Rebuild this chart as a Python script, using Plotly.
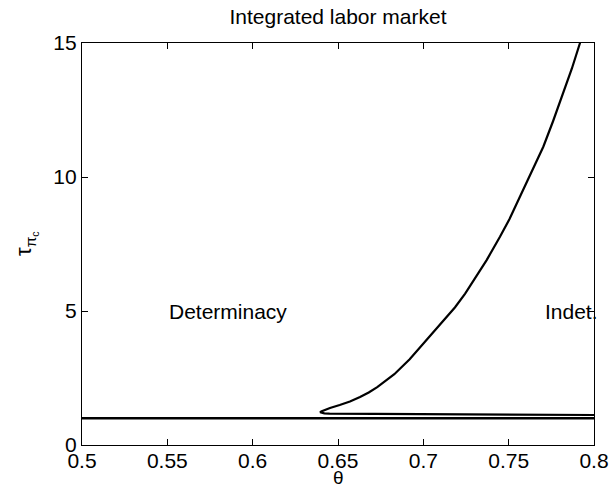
import plotly.graph_objects as go

# Horizontal boundary (tau = 1 across whole range)
flat_theta = [0.5, 0.8]
flat_tau = [1.0, 1.0]

# Folded boundary: lower branch (right -> fold) then upper branch (fold -> top)
lower_theta = [0.8, 0.75, 0.70, 0.66, 0.65, 0.645, 0.642, 0.6403]
lower_tau = [1.12, 1.13, 1.14, 1.15, 1.16, 1.17, 1.18, 1.195]
upper_theta = [0.6395, 0.6405, 0.6425, 0.6453, 0.651, 0.657, 0.6629, 0.668, 0.673,
               0.678, 0.683, 0.692, 0.702, 0.710, 0.7186, 0.7245, 0.7303, 0.7371,
               0.7449, 0.7505, 0.7557, 0.763, 0.7703, 0.776, 0.782, 0.787, 0.7918, 0.7935]
upper_tau = [1.22, 1.26, 1.32, 1.38, 1.49, 1.62, 1.79, 1.96, 2.16,
             2.39, 2.64, 3.20, 3.92, 4.50, 5.14, 5.65, 6.22, 6.90,
             7.77, 8.43, 9.14, 10.12, 11.13, 12.08, 13.12, 14.04, 15.0, 15.35]

x_ticks = [0.5, 0.55, 0.6, 0.65, 0.7, 0.75, 0.8]
x_tick_labels = ["0.5", "0.55", "0.6", "0.65", "0.7", "0.75", "0.8"]
y_ticks = [0, 5, 10, 15]
y_tick_labels = ["0", "5", "10", "15"]

FONT = "Liberation Sans, Arial, sans-serif"
FS = 21
PLOT_W, PLOT_H = 512, 402

fig = go.Figure()
fig.add_trace(go.Scatter(x=flat_theta, y=flat_tau, mode="lines",
                         line=dict(color="black", width=2.6), showlegend=False))
fig.add_trace(go.Scatter(x=lower_theta + upper_theta, y=lower_tau + upper_tau,
                         mode="lines", line=dict(color="black", width=2.2),
                         showlegend=False))

fig.add_annotation(x=0.55, y=5, text="Determinacy", showarrow=False,
                   xanchor="left", yanchor="middle", font=dict(family=FONT, size=FS, color="black"))
fig.add_annotation(x=0.770, y=5, text="Indet.", showarrow=False,
                   xanchor="left", yanchor="middle", font=dict(family=FONT, size=FS, color="black"))
# y-axis title
fig.add_annotation(x=(26 - 82) / PLOT_W, xref="paper", y=0.5, yref="paper",
                   text="τ<sub>π<sub>c</sub></sub>",
                   showarrow=False, textangle=-90, xanchor="center", yanchor="middle",
                   font=dict(family=FONT, size=FS + 1, color="black"))
# x-axis title
fig.add_annotation(x=0.5, xref="paper", y=-(489 - 445) / PLOT_H, yref="paper",
                   text="θ", showarrow=False, xanchor="center", yanchor="bottom",
                   borderpad=0, font=dict(family=FONT, size=FS - 2, color="black"))

fig.update_layout(
    width=609, height=490,
    margin=dict(l=82, r=15, t=43, b=45, autoexpand=False),
    paper_bgcolor="white", plot_bgcolor="white",
    font=dict(family=FONT, size=FS, color="black"),
    title=dict(text="Integrated labor market", x=0.5, xanchor="center",
               xref="paper", y=1 - 17 / 490, yanchor="middle",
               font=dict(family=FONT, size=FS, color="black")),
    showlegend=False,
)
fig.update_xaxes(range=[0.5, 0.8], tickvals=x_ticks, ticktext=x_tick_labels,
                 ticks="inside", ticklen=6, tickcolor="black", showgrid=False, zeroline=False,
                 showline=True, linecolor="black", linewidth=1.2, mirror="ticks",
                 ticklabelstandoff=-3, automargin=False)
fig.update_yaxes(range=[0, 15], tickvals=y_ticks, ticktext=y_tick_labels,
                 ticks="inside", ticklen=6, tickcolor="black", showgrid=False, zeroline=False,
                 showline=True, linecolor="black", linewidth=1.2, mirror="ticks",
                 automargin=False)

fig.write_html("out.html")
